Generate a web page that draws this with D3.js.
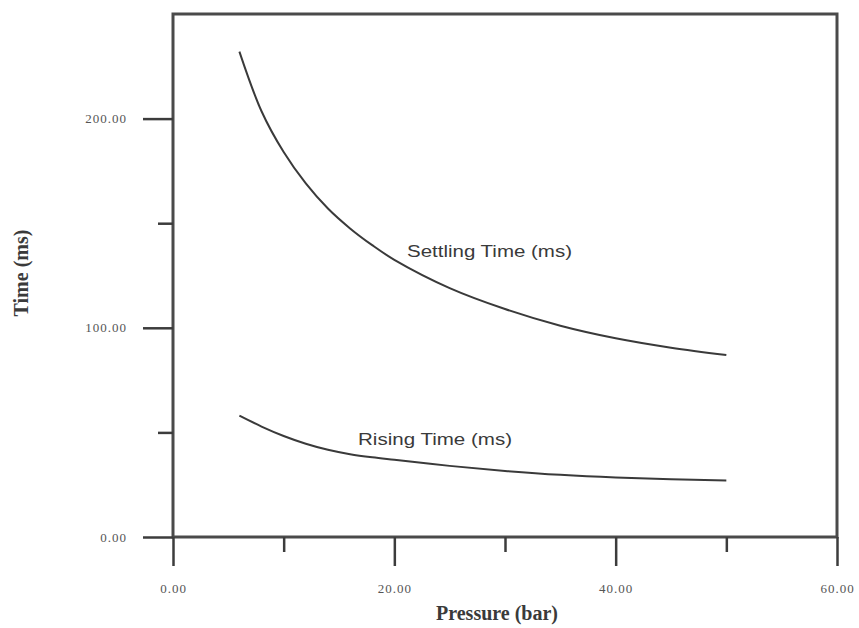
<!DOCTYPE html>
<html>
<head>
<meta charset="utf-8">
<script src="https://cdn.jsdelivr.net/npm/d3@7"></script>
<style>
  body { margin: 0; background: #fff; }
  svg { display: block; }
  .axis path, .axis line { stroke: #3c3c3c; }
  .axis text { font-family: "Liberation Serif", serif; fill: #555; letter-spacing: 1px; }
</style>
</head>
<body>
<div id="chart"></div>
<script>
// pressure (bar)
var pressure = [6, 8, 10, 12, 14, 16, 18, 20, 25, 30, 35, 40, 45, 50];
// settling time (ms)
var settling = [232, 203.5, 184, 169, 157, 147.5, 139.5, 132.5, 119, 109, 101, 95, 90.5, 87];
// rising time (ms)
var rising = [58, 52.8, 48.3, 44.6, 41.7, 39.6, 38.1, 36.9, 34, 31.6, 29.7, 28.4, 27.6, 27];

var xMajor = [0, 20, 40, 60];
var xMinor = [10, 30, 50];
var yMajor = [0, 100, 200];
var yMinor = [50, 150];

var width = 859, height = 628;
var plotLeft = 173, plotRight = 837, plotTop = 14, plotBottom = 537;

var svg = d3.select("#chart").append("svg")
    .attr("width", width)
    .attr("height", height);

var x = d3.scaleLinear().domain([0, 60]).range([plotLeft, plotRight]);
var y = d3.scaleLinear().domain([0, 250]).range([plotBottom, plotTop]);

var fmt = d3.format(".2f");

// frame
svg.append("rect")
    .attr("x", plotLeft).attr("y", plotTop)
    .attr("width", plotRight - plotLeft).attr("height", plotBottom - plotTop)
    .attr("fill", "none")
    .attr("stroke", "#4a4a4a")
    .attr("stroke-width", 3);

// x axis, major + minor
svg.append("g").attr("class", "axis")
    .attr("transform", "translate(0," + plotBottom + ")")
    .call(d3.axisBottom(x).tickValues(xMajor).tickSize(29).tickPadding(18).tickFormat(fmt))
    .call(function(g) { g.select(".domain").remove(); })
    .call(function(g) { g.selectAll("line").attr("stroke-width", 2.5); })
    .call(function(g) { g.selectAll("text").attr("font-size", 13); });

svg.append("g").attr("class", "axis")
    .attr("transform", "translate(0," + plotBottom + ")")
    .call(d3.axisBottom(x).tickValues(xMinor).tickSize(15).tickFormat(""))
    .call(function(g) { g.select(".domain").remove(); })
    .call(function(g) { g.selectAll("line").attr("stroke-width", 2.5); });

// y axis, major + minor
svg.append("g").attr("class", "axis")
    .attr("transform", "translate(" + plotLeft + ",0)")
    .call(d3.axisLeft(y).tickValues(yMajor).tickSize(30).tickPadding(16).tickFormat(fmt))
    .call(function(g) { g.select(".domain").remove(); })
    .call(function(g) { g.selectAll("line").attr("stroke-width", 2.5); })
    .call(function(g) { g.selectAll("text").attr("font-size", 13); });

svg.append("g").attr("class", "axis")
    .attr("transform", "translate(" + plotLeft + ",0)")
    .call(d3.axisLeft(y).tickValues(yMinor).tickSize(15).tickFormat(""))
    .call(function(g) { g.select(".domain").remove(); })
    .call(function(g) { g.selectAll("line").attr("stroke-width", 2.5); });

// curves
var line = d3.line()
    .x(function(d) { return x(d[0]); })
    .y(function(d) { return y(d[1]); })
    .curve(d3.curveCatmullRom.alpha(0.5));

[settling, rising].forEach(function(s) {
  svg.append("path")
      .datum(pressure.map(function(p, i) { return [p, s[i]]; }))
      .attr("fill", "none")
      .attr("stroke", "#3a3a3a")
      .attr("stroke-width", 2)
      .attr("d", line);
});

// curve labels
svg.append("text")
    .attr("x", 407).attr("y", 257)
    .attr("font-family", "Liberation Sans, sans-serif")
    .attr("font-size", 16)
    .attr("fill", "#3a3a3a")
    .attr("textLength", 165).attr("lengthAdjust", "spacingAndGlyphs")
    .text("Settling Time  (ms)");

svg.append("text")
    .attr("x", 358).attr("y", 445)
    .attr("font-family", "Liberation Sans, sans-serif")
    .attr("font-size", 16)
    .attr("fill", "#3a3a3a")
    .attr("textLength", 154).attr("lengthAdjust", "spacingAndGlyphs")
    .text("Rising Time  (ms)");

// axis titles
svg.append("text")
    .attr("x", 497).attr("y", 620)
    .attr("text-anchor", "middle")
    .attr("font-family", "Liberation Serif, serif")
    .attr("font-weight", "bold")
    .attr("font-size", 20)
    .attr("fill", "#3a3a3a")
    .text("Pressure (bar)");

svg.append("text")
    .attr("transform", "translate(28,273) rotate(-90)")
    .attr("text-anchor", "middle")
    .attr("font-family", "Liberation Serif, serif")
    .attr("font-weight", "bold")
    .attr("font-size", 20)
    .attr("fill", "#3a3a3a")
    .text("Time (ms)");
</script>
</body>
</html>
